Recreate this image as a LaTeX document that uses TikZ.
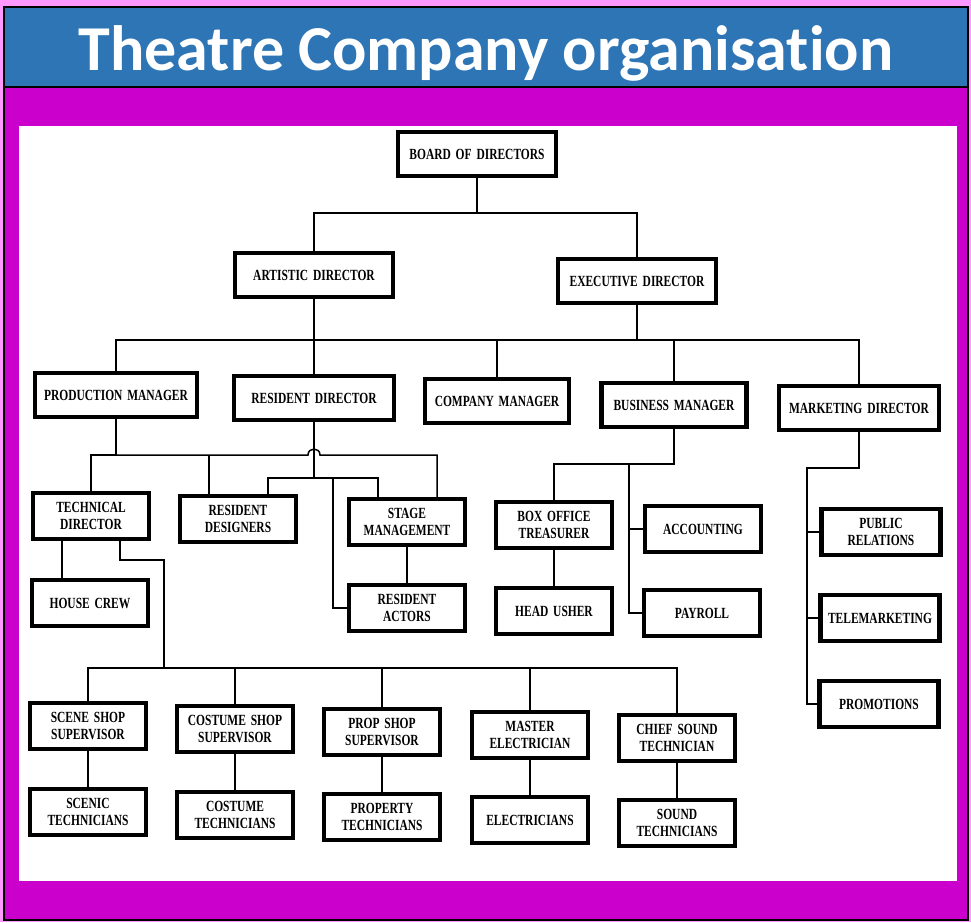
\documentclass[tikz,border=0pt]{standalone}
\usepackage{fontspec}
\setmainfont{Liberation Serif}
\newfontfamily\titlefont[Ligatures=NoCommon]{Carlito}
\newfontfamily\boxfont[FakeStretch=0.74,WordSpace=1.7]{Liberation Serif}
\definecolor{pinkbg}{HTML}{FF99FF}
\definecolor{titleblue}{HTML}{2E75B6}
\definecolor{framemag}{HTML}{CC00CC}
\tikzset{
  box/.style={draw=black, line width=4.5pt, fill=white, align=center, inner sep=0pt,
    font=\boxfont\bfseries\fontsize{15.5}{16.5}\selectfont},
  big/.style={box, minimum width=158pt, minimum height=44pt},
  small/.style={box, minimum width=116pt, minimum height=46pt},
  conn/.style={draw=black, line width=1.5pt}
}
\begin{document}
\begin{tikzpicture}[x=1pt,y=-1pt]
\useasboundingbox (0,0) rectangle (971,922);
\fill[pinkbg] (0,0) rectangle (971,922);
\filldraw[fill=titleblue, draw=black, line width=2pt] (4,7) rectangle (968,87);
\filldraw[fill=framemag, draw=black, line width=2pt] (4,87) rectangle (968,920);
\fill[white] (19,126) rectangle (957,881);
\node[anchor=base, text=white, font=\titlefont\bfseries\fontsize{64}{70}\selectfont] (title) at (486,70) {Theatre Company organisation};

% level 1-2
\node[big] (board) at (477,154) {BOARD OF DIRECTORS};
\node[big] (artistic) at (314,275) {ARTISTIC DIRECTOR};
\node[big] (executive) at (637,281) {EXECUTIVE DIRECTOR};
% level 3
\node[big, minimum width=162pt] (production) at (116,395) {PRODUCTION MANAGER};
\node[big, minimum width=160pt] (resdir) at (314,398) {RESIDENT DIRECTOR};
\node[big, minimum width=144pt] (company) at (497,401) {COMPANY MANAGER};
\node[big, minimum width=145pt] (business) at (674,405) {BUSINESS MANAGER};
\node[big, minimum width=160pt] (marketing) at (859,408) {MARKETING DIRECTOR};
% production subtree
\node[small] (technical) at (91,516) {TECHNICAL\\DIRECTOR};
\node[small] (resdes) at (238,519) {RESIDENT\\DESIGNERS};
\node[small] (stage) at (407,522) {STAGE\\MANAGEMENT};
\node[small] (housecrew) at (90,603) {HOUSE CREW};
\node[small] (resactors) at (407,608) {RESIDENT\\ACTORS};
% business subtree
\node[small] (boxoffice) at (554,525) {BOX OFFICE\\TREASURER};
\node[small] (accounting) at (703,529) {ACCOUNTING};
\node[small] (headusher) at (554,611) {HEAD USHER};
\node[small] (payroll) at (702,613) {PAYROLL};
% marketing subtree
\node[small, minimum width=119pt] (pr) at (881,532) {PUBLIC\\RELATIONS};
\node[small, minimum width=119pt] (tele) at (880,618) {TELEMARKETING};
\node[small, minimum width=119pt] (promo) at (879,704) {PROMOTIONS};
% shops
\node[small] (sceneshop) at (88,726) {SCENE SHOP\\SUPERVISOR};
\node[small] (costumeshop) at (235,729) {COSTUME SHOP\\SUPERVISOR};
\node[small] (propshop) at (382,732) {PROP SHOP\\SUPERVISOR};
\node[small] (masterelec) at (530,735) {MASTER\\ELECTRICIAN};
\node[small] (chiefsound) at (677,738) {CHIEF SOUND\\TECHNICIAN};
\node[small] (scenictech) at (88,812) {SCENIC\\TECHNICIANS};
\node[small] (costumetech) at (235,815) {COSTUME\\TECHNICIANS};
\node[small] (propertytech) at (382,817) {PROPERTY\\TECHNICIANS};
\node[small] (electricians) at (530,820) {ELECTRICIANS};
\node[small] (soundtech) at (677,823) {SOUND\\TECHNICIANS};

% coordinates
\coordinate (b1) at (477,213);
\coordinate (e1) at (637,340);
\coordinate (p1) at (116,455);
\coordinate (hopL) at (308,455);
\coordinate (hopR) at (320,455);
\coordinate (rdcol) at (209,455);
\coordinate (stcol) at (437,455);
\coordinate (r1) at (314,478);
\coordinate (rdL) at (268,478);
\coordinate (rdR) at (378,478);
\coordinate (rdA) at (333,478);
\coordinate (tdx) at (62,0);
\coordinate (tdy) at (120,0);
\coordinate (t1) at (120,560);
\coordinate (t2) at (164,560);
\coordinate (sb) at (164,668);
\coordinate (bm1) at (674,464);
\coordinate (bmx) at (629,464);
\coordinate (mk1) at (859,468);
\coordinate (mkx) at (807,468);

% connectors
\path[conn] (board.south) -- (b1);
\path[conn] (artistic.north) |- (b1) -| (executive.north);
\path[conn] (artistic.south) -- (resdir.north);
\path[conn] (executive.south) -- (e1);
\path[conn] (production.north) |- (e1) -| (marketing.north);
\path[conn] (company.north) -- (company.north |- e1);
\path[conn] (business.north) -- (business.north |- e1);

\path[conn] (production.south) -- (p1);
\path[conn] (technical.north -| p1) ++(-25,0) |- (p1);
\path[conn] (p1) -- (hopL) .. controls (308,447) and (320,447) .. (hopR) -- (stcol) -- (stcol |- stage.north);
\path[conn] (rdcol) -- (rdcol |- resdes.north);
\path[conn] (resdir.south) -- (r1);
\path[conn] (rdL |- resdes.north) |- (rdR) -- (rdR |- stage.north);
\path[conn] (rdA) |- (resactors.west);
\path[conn] (stage.south) -- (resactors.north);

\path[conn] (technical.south -| tdx) -- (housecrew.north -| tdx);
\path[conn] (technical.south -| tdy) -- (t1) -- (t2) -- (sb);
\path[conn] (sceneshop.north) |- (sb) -| (chiefsound.north);
\path[conn] (costumeshop.north) -- (costumeshop.north |- sb);
\path[conn] (propshop.north) -- (propshop.north |- sb);
\path[conn] (masterelec.north) -- (masterelec.north |- sb);
\path[conn] (sceneshop.south) -- (scenictech.north);
\path[conn] (costumeshop.south) -- (costumetech.north);
\path[conn] (propshop.south) -- (propertytech.north);
\path[conn] (masterelec.south) -- (electricians.north);
\path[conn] (chiefsound.south) -- (soundtech.north);

\path[conn] (business.south) -- (bm1) -| (boxoffice.north);
\path[conn] (bmx) |- (payroll.west);
\path[conn] (bmx |- accounting.west) -- (accounting.west);
\path[conn] (boxoffice.south) -- (headusher.north);

\path[conn] (marketing.south) -- (mk1) -- (mkx) |- (promo.west);
\path[conn] (mkx |- pr.west) -- (pr.west);
\path[conn] (mkx |- tele.west) -- (tele.west);
\end{tikzpicture}
\end{document}
